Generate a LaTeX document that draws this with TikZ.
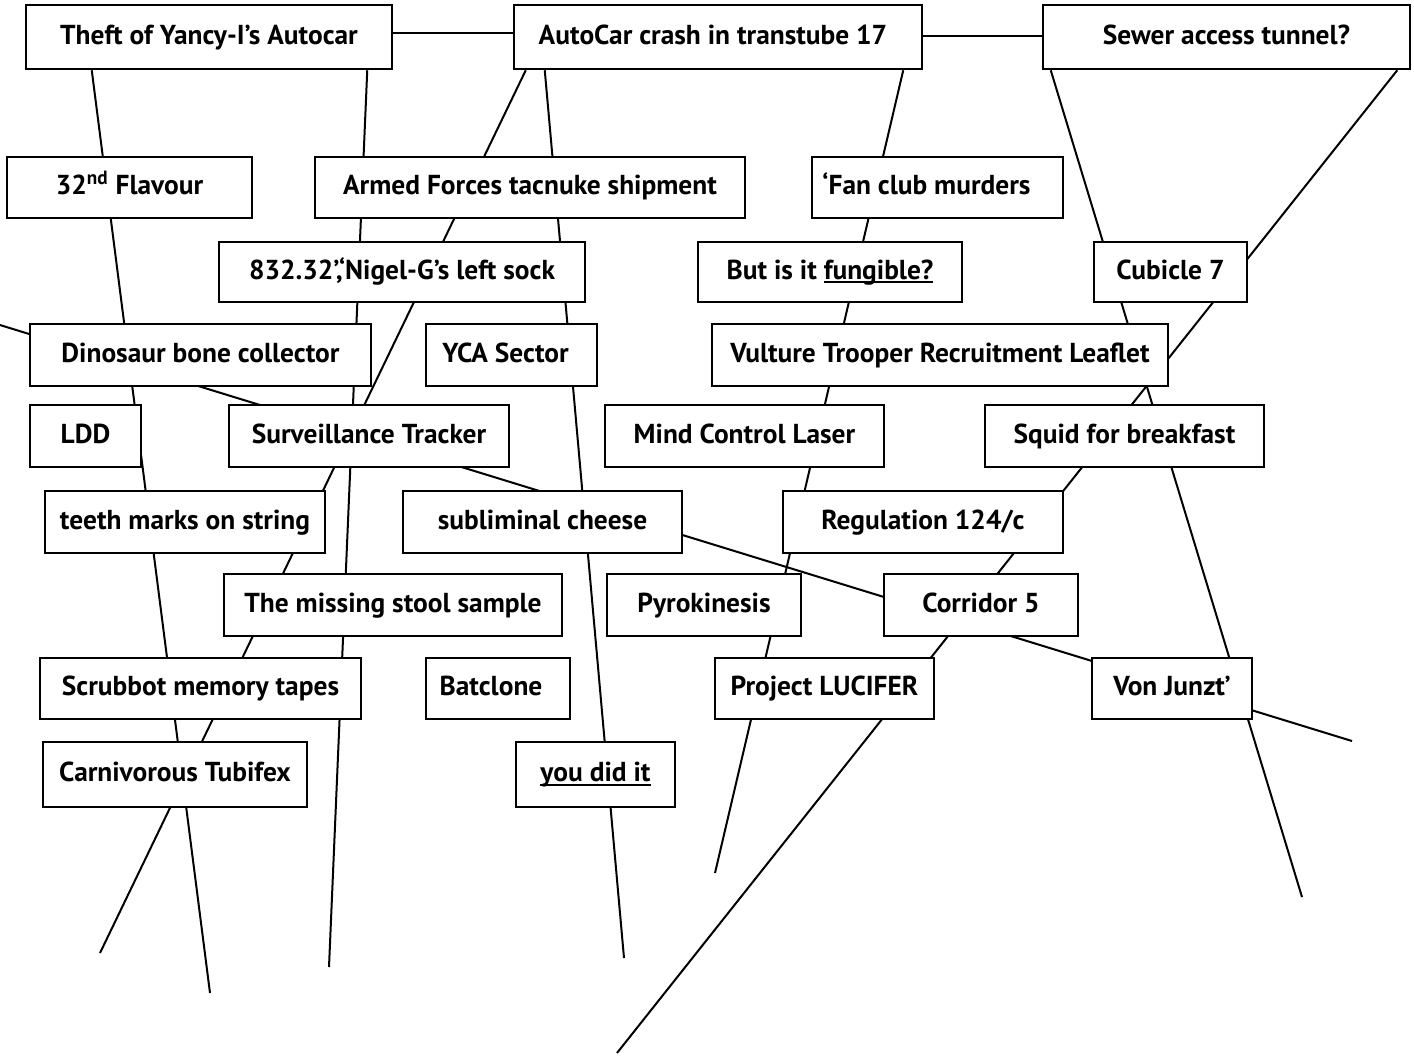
\documentclass[tikz,border=0pt]{standalone}
\usepackage{fontspec}
\setmainfont{PT Sans}
\usetikzlibrary{calc}
\pgfdeclarelayer{background}
\pgfsetlayers{background,main}
\tikzset{
  box/.style={draw=black, line width=1.25pt, fill=white, inner sep=0pt,
    text height=0.8em, text depth=0.1em,
    font=\fontsize{13.7}{15}\selectfont\bfseries},
  link/.style={draw=black, line width=1pt},
}
\newcommand\myul[1]{\setbox0\hbox{#1}\rlap{\rule[-2pt]{\wd0}{0.8pt}}\box0}
\newcommand\bx[6]{\pgfmathsetmacro\bxw{(#4-#2)*0.5}\pgfmathsetmacro\bxh{(#5-#3)*0.5}%
  \node[box,minimum width=\bxw pt,minimum height=\bxh pt] (#1) at ({(#2+#4)/2},{(#3+#5)/2}) {#6};}
\begin{document}
\begin{tikzpicture}[x=0.5pt,y=-0.5pt]
\useasboundingbox (0,0) rectangle (1414,1057);
\bx{theft}{26}{5}{392}{69}{Theft of Yancy-I’s Autocar}
\bx{autocar}{514}{5}{922}{69}{AutoCar crash in transtube 17\kern5pt}
\bx{sewer}{1043}{5}{1410}{69}{Sewer access tunnel?}
\bx{flavour}{7}{157}{252}{218}{32\textsuperscript{nd} Flavour}
\bx{armed}{315}{157}{745}{218}{Armed Forces tacnuke shipment}
\bx{fanclub}{812}{157}{1063}{218}{‘Fan club murders\kern11pt}
\bx{sock}{219}{242}{585}{302}{832.32’,‘Nigel-G’s left sock}
\bx{fungible}{698}{242}{962}{302}{But is it \myul{fungible?}}
\bx{cubicle}{1094}{242}{1247}{302}{Cubicle 7}
\bx{dino}{30}{324}{371}{386}{Dinosaur bone collector}
\bx{yca}{426}{324}{597}{386}{YCA Sector\kern6pt}
\bx{vulture}{712}{324}{1168}{386}{Vulture Trooper Recruitment Leaflet}
\bx{ldd}{30}{405}{141}{467}{LDD}
\bx{tracker}{229}{405}{509}{467}{Surveillance Tracker}
\bx{laser}{605}{405}{884}{467}{Mind Control Laser}
\bx{squid}{985}{405}{1264}{467}{Squid for breakfast}
\bx{teeth}{45}{491}{325}{553}{teeth marks on string}
\bx{cheese}{403}{491}{682}{553}{subliminal cheese}
\bx{regulation}{783}{491}{1063}{553}{Regulation 124/c}
\bx{stool}{224}{574}{562}{636}{The missing stool sample}
\bx{pyro}{607}{574}{801}{636}{Pyrokinesis}
\bx{corridor}{884}{574}{1078}{636}{Corridor 5}
\bx{scrubbot}{40}{658}{361}{719}{Scrubbot memory tapes}
\bx{batclone}{426}{658}{570}{719}{Batclone\kern7pt}
\bx{lucifer}{715}{658}{934}{719}{Project LUCIFER}
\bx{junzt}{1092}{658}{1252}{719}{Von Junzt’}
\bx{tubifex}{43}{742}{307}{807}{Carnivorous Tubifex}
\bx{diditit}{516}{742}{675}{807}{\myul{you did it}}
\coordinate (aEnd) at (210,993);
\coordinate (bEnd) at (329,967);
\coordinate (cEnd) at (100,953);
\coordinate (dEnd) at (624,958);
\coordinate (eEnd) at (715,873);
\coordinate (fEnd) at (1302,897);
\coordinate (gEnd) at (617,1053);
\coordinate (hStart) at (0,325);
\coordinate (hEnd) at (1352,741);
\begin{pgfonlayer}{background}
\draw[link] ([shift={(67,0)}]theft.south west) -- (aEnd);
\draw[link] ([shift={(-26,0)}]theft.south east) -- (bEnd);
\draw[link] ([shift={(13,0)}]autocar.south west) -- (cEnd);
\draw[link] ([shift={(32,0)}]autocar.south west) -- (dEnd);
\draw[link] ([shift={(-20,0)}]autocar.south east) -- (eEnd);
\draw[link] ([shift={(9,0)}]sewer.south west) -- (fEnd);
\draw[link] ([shift={(-14,0)}]sewer.south east) -- (gEnd);
\draw[link] (hStart) -- (hEnd);
\draw[link] ([shift={(0,-4)}]theft.east) -- ([shift={(0,-4)}]autocar.west);
\draw[link] ([shift={(0,-1)}]autocar.east) -- ([shift={(0,-1)}]sewer.west);
\end{pgfonlayer}
\end{tikzpicture}
\end{document}
